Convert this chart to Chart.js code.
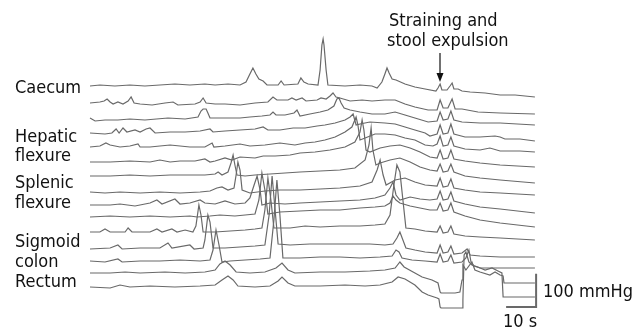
<!DOCTYPE html>
<html>
<head>
<meta charset="utf-8">
<script src="https://cdn.jsdelivr.net/npm/chart.js@4/dist/chart.umd.min.js"></script>
<style>
  html, body { margin: 0; padding: 0; background: #fff; }
  #wrap { width: 643px; height: 331px; position: relative; }
</style>
</head>
<body>
<div id="wrap"><canvas id="myChart"></canvas></div>
<script>
// time in s, pressure in mmHg (relative to each channel's resting level)
const t01 = [0,3.3,8.3,13.3,18.3,23.3,28.3,33.3,38.3,41.7,46,50,52,53.3,54.3,55.3,56.3,57.7,59,62.7,63.7,64.7,69.3,70.3,71.3,72.7,76,76.7,77.3,77.7,78,78.7,79.3,85,90,94,95.7,97.3,98.3,99,99.7,100.7,102,105,108.3,111.7,115.3,116,116.7,117.3,119,120,120.7,121.3,122.7,124,126.7,131.7,136.7,141.7,148.3];
const p01 = [0,3,0,3,0,3,6,3,6,3,6,3,12,36,54,36,21,15,3,3,15,3,6,24,12,6,3,48,123,141,123,48,3,0,3,0,-6,12,36,54,39,21,18,6,-3,-9,-15,-6,6,-12,-12,0,9,-9,-9,-15,-18,-21,-27,-27,-33];

const t02 = [0,3.3,4.7,5.7,6.7,7.7,9.3,11,12.7,13.7,14.7,16.7,20.7,25,27.7,29.3,35,36.7,37.7,38.7,41.7,45,50,55,59.3,61,62.3,66,67.3,68.7,70.7,72,75.7,77,78.7,80,81,82,83.3,86.7,90.7,94,98.3,101.7,105,108.3,112.7,115.7,116.7,117.7,119.3,120.7,121.7,124,129.3,136.7,148.3];
const p02 = [-3,0,3,9,0,-6,0,-6,3,15,-3,-6,-9,-3,0,-9,-6,0,12,-3,-6,-6,-9,-3,0,15,6,6,12,6,12,3,6,12,9,18,27,15,12,3,6,3,6,6,-6,-15,-24,-24,6,-18,-18,9,-21,-21,-30,-33,-36];

const t03 = [0,1.7,5,9.3,13.3,18.3,26,31.7,36,37,37.7,38.7,39.3,40,45,50,53.3,57.3,60,61,62,65,68,69,70,73.3,76.7,79.3,81.3,82.3,83,83.7,84.7,86.7,90,94,98.3,101.7,105,108.3,112.7,115.7,116.7,117.7,119.3,120.3,121.3,124,130,136.7,148.3];
const p03 = [0,-9,-6,-6,-3,-6,0,-3,3,21,27,27,15,0,0,0,3,6,9,18,9,9,15,24,6,12,18,24,36,57,60,45,30,24,18,12,12,18,9,0,-12,-9,18,-6,-3,21,-6,-12,-15,-15,-21];

const t04 = [0,5,7.3,8.7,9.7,11,12.3,15,16.7,18.7,20,21.7,26.7,31.7,36.7,40,41,45,50,55,57.7,59.3,63.3,67.7,71.7,75.7,78.3,81.7,85,86.7,87.7,88.7,90,93.3,98.3,101.7,105,108.3,111.7,113.3,115.7,116.7,117.7,119.3,120.3,121.3,125,130,135,136.7,138.3,143.3,148.3];
const p04 = [0,-3,0,12,0,15,3,9,3,12,15,0,3,3,6,12,3,6,9,12,18,9,9,15,15,21,24,30,39,48,57,24,27,33,30,27,18,9,0,-9,-3,24,-3,0,27,-3,-12,-12,-9,-12,-18,-18,-24];

const t05 = [0,3.3,5.3,6.7,10,13.3,16,16.7,20,23.3,26.7,33.3,38.3,40.7,41.3,45,50,53.3,58.3,63.3,68.3,71.7,75,78.3,81.7,85,87.3,88.7,89.3,90,91.7,95,98.3,101.7,105,108.3,111.7,114.3,115.7,116.7,117.7,119.3,120.3,121.3,125,130,133.3,136.7,143.3,148.3];
const p05 = [0,3,12,6,0,3,9,0,0,3,6,0,0,12,0,3,9,3,6,12,6,12,15,21,30,45,60,90,66,21,27,39,39,36,27,21,6,3,9,33,3,6,30,3,-6,-9,-3,-12,-12,-15];

const t06 = [0,6.7,13.3,20,23.3,26.7,30,35,38.3,40,41.7,45,47.3,50,55,57.7,61.7,66.7,70,75,80,85,88.3,90,90.7,91.3,92,93.3,96.7,100,103.3,106.7,110,113.3,115.7,116.7,117.7,119.3,120.3,121.3,125,130,136.7,148.3];
const p06 = [0,0,3,0,6,0,3,3,9,0,3,12,6,15,12,18,18,21,27,30,36,45,60,90,126,96,36,30,42,48,51,42,30,15,12,36,9,12,36,9,3,-3,-9,-15];

const t07 = [0,6.7,13.3,20,26.7,33.3,38.3,41.7,42.7,44,46,47,47.7,48.3,49,51.7,55,60,65,70,76.7,83.3,88.3,91.7,93,93.7,94.3,95.3,96.7,100,103.3,106.7,110,113.3,115.7,116.7,117.7,119.3,120.3,121.3,125,130,136.7,148.3];
const p07 = [0,0,3,0,3,3,3,6,12,3,12,39,63,33,3,0,3,6,9,12,15,18,24,48,93,144,78,33,39,48,54,42,27,18,15,36,12,15,36,12,0,-6,-12,-21];

const t08 = [0,5,10,16.7,23.3,30,36.7,40,42.3,44,46,48,48.7,49.3,50,50.7,53.3,58.3,63.3,70,76.7,83.3,90,94,95.7,96.7,97.7,98.7,101.7,105,108.3,111.7,115.7,116.7,117.7,119.3,120.3,121.3,125,130,136.7,148.3];
const p08 = [0,-3,0,-3,0,-3,0,3,12,15,6,12,51,90,66,6,-3,3,6,6,9,12,18,30,66,96,51,21,36,42,30,21,18,42,15,18,39,12,6,0,-3,-9];

const t09 = [0,6.7,10,15,20,22.3,24,28.3,30,33.3,36.7,38.3,41.7,45,48.3,51.7,53.3,54.7,55.7,56.7,57.3,60,65,70,76.7,83.3,90,95,98.3,100,101,102,103.3,106.7,110,113.3,115.7,116.7,117.7,119.3,120.3,121.3,125,130,136.7,148.3];
const p09 = [0,0,3,-3,6,15,3,18,3,6,15,6,3,12,3,6,21,60,87,45,0,6,3,6,9,12,15,21,30,51,69,30,15,24,18,15,18,42,15,18,39,12,3,-6,-12,-24];

const t10 = [0,6.7,13.3,20,26.7,33.3,35.7,40,43.3,48.3,51.7,55,56.3,57.3,58.3,59.3,63.3,70,76.7,83.3,90,95,98.3,100,101,102,103.3,106.7,110,113.3,115.7,116.7,117.7,119.3,120.3,121.3,125,130,136.7,148.3];
const p10 = [0,3,0,3,0,3,0,3,6,3,6,9,51,132,81,9,15,18,21,21,27,30,33,42,63,51,42,33,27,21,21,42,18,21,42,15,3,-9,-18,-30];

const t11 = [0,3.3,5,6.7,11.7,12.7,14,20,22.3,24,27.3,29,31.7,34.3,35.3,36.3,37,37.7,41.7,46.7,51.7,55,57.3,58.3,59.3,60.3,61.3,66.7,71.7,76.7,83.3,90,95,98.3,100,101.3,102.3,103.3,104.3,105.3,108.3,111.7,115.7,116.7,117.7,119.3,120.3,121.3,125,130,136.7,148.3];
const p11 = [0,0,9,0,0,12,0,0,9,0,9,0,6,0,18,81,51,0,0,3,6,9,12,66,162,96,12,12,18,15,18,18,21,24,51,141,201,180,96,12,9,3,0,18,-3,0,18,-6,-12,-15,-18,-24];

const t12 = [0,6.7,9.3,10.7,16.7,23.3,26,27.3,33.3,34.7,37.7,38.3,39.3,40,41,45,50,55,58.3,59.7,60.7,61.7,62.7,66.7,73.3,80,86.7,93.3,98.3,101,102.3,103.3,104.3,105.3,108.3,111.7,115.7,116.7,117.7,119.3,120.3,121.3,124,125.7,126.7,130,136.7,148.3];
const p12 = [-3,0,9,-3,0,0,15,0,9,-3,0,24,99,78,0,0,3,6,9,99,216,114,12,9,12,12,12,12,9,12,30,48,24,0,-6,-12,-15,9,-15,-12,6,-18,-15,-3,-21,-24,-27,-27];

const t13 = [0,5,9.3,10.7,16.7,23.3,30,36.7,40,41,42,43,44,46.7,51.7,56.7,60,61.3,62.3,63.3,64.3,70,76.7,83.3,90,96.7,100.7,102,103,104,107.3,111.7,115.7,116.7,117.7,119.3,120.3,121.3,124,125.3,126.3,127,128,130,136.7,148.3];
const p13 = [0,-3,6,-3,0,0,3,0,3,33,93,48,-3,0,3,6,9,123,243,138,9,9,12,12,9,12,15,33,27,9,3,0,-3,21,-3,0,18,-6,-3,9,33,-3,-15,-21,-21,-21];

const t14 = [0,6.7,11.7,16.7,25,31.7,38.3,41.7,43.3,45,46.7,48.7,53.3,58.3,62,64,66,68.3,76.7,85,93.3,98.3,101.7,103.3,104.7,108.3,110.7,114,116,116.7,117,121.7,123.3,124,124.3,125.3,127.3,128.3,130,133.3,135,136.7,137.7,138,148.3];
const p14 = [0,0,3,0,3,0,3,9,27,36,24,3,0,3,15,30,9,0,3,3,6,9,15,33,18,0,-12,-21,-30,-57,-60,-60,-57,-21,24,9,33,9,3,-6,3,-6,-9,-30,-30];

const t15 = [0,6.7,10,13.3,20,28.3,36.7,41.7,44,46,47.7,49.3,55,60,62.7,64,66,68.3,76.7,85,91.7,96.7,100.7,102.7,105,108.3,110.7,112.7,115.7,116.3,116.7,117,124,124.3,124.7,125.3,126.3,127.3,129.3,131.7,134,136,137.3,137.7,148.3];
const p15 = [0,-3,6,0,3,0,3,6,21,33,21,3,0,3,18,30,12,3,3,6,3,6,15,30,24,6,-15,-24,-33,-36,-60,-63,-63,-39,96,105,75,66,60,51,57,48,42,-30,-30];

const times = [t01, t02, t03, t04, t05, t06, t07, t08, t09, t10, t11, t12, t13, t14, t15];
const pressures = [p01, p02, p03, p04, p05, p06, p07, p08, p09, p10, p11, p12, p13, p14, p15];

// display offset of each channel (mmHg), top trace first
const offsets = [735, 687, 639, 594, 552, 507, 465, 417, 378, 342, 297, 249, 210, 174, 132];

const sites = [
  ['Caecum'], ['Hepatic', 'flexure'], ['Splenic', 'flexure'], ['Sigmoid', 'colon'], ['Rectum']
];

const datasets = times.map(function (t, k) {
  return {
    data: t.map(function (x, i) { return { x: x, y: offsets[k] + pressures[k][i] }; }),
    borderColor: 'rgb(105,105,105)',
    borderWidth: 1.2,
    pointRadius: 0,
    tension: 0,
    fill: false,
  };
});

const FONT = '18px "DejaVu Sans Condensed", "Liberation Sans", sans-serif';

const overlay = {
  id: 'overlay',
  afterDraw: function (chart) {
    const ctx = chart.ctx;
    const xs = chart.scales.x, ys = chart.scales.y;
    ctx.save();
    ctx.fillStyle = '#111';
    ctx.font = FONT;
    ctx.textBaseline = 'alphabetic';
    // channel names
    const rows = [[93], [142, 161], [188, 208], [247, 267], [287]];
    sites.forEach(function (words, i) {
      words.forEach(function (w, j) { ctx.fillText(w, 15, rows[i][j]); });
    });
    // straining annotation
    ctx.fillText('Straining and', 389, 26);
    ctx.fillText('stool expulsion', 387, 46);
    ctx.strokeStyle = '#111';
    ctx.lineWidth = 1.2;
    ctx.beginPath();
    ctx.moveTo(440, 53); ctx.lineTo(440, 76);
    ctx.stroke();
    ctx.beginPath();
    ctx.moveTo(436.5, 73); ctx.lineTo(443.5, 73); ctx.lineTo(440, 82); ctx.closePath();
    ctx.fill();
    // scale bar: 10 s x 100 mmHg
    const bx = xs.getPixelForValue(148.7), by = ys.getPixelForValue(72);
    ctx.strokeStyle = 'rgb(105,105,105)';
    ctx.lineWidth = 2;
    ctx.beginPath();
    ctx.moveTo(xs.getPixelForValue(138.7), by);
    ctx.lineTo(bx, by);
    ctx.lineTo(bx, ys.getPixelForValue(172));
    ctx.stroke();
    ctx.fillText('100 mmHg', 543, 297);
    ctx.fillText('10 s', 503, 327);
    ctx.restore();
  }
};

const config = {
  type: 'line',
  data: { datasets: datasets },
  options: {
    responsive: true,
    maintainAspectRatio: false,
    animation: false,
    events: [],
    layout: { padding: 0 },
    scales: {
      x: { type: 'linear', min: -30, max: 184.33, display: false },
      y: { type: 'linear', min: 0, max: 993, display: false },
    },
    plugins: {
      legend: { display: false },
      tooltip: { enabled: false },
    },
  },
  plugins: [overlay],
};

const myChart = new Chart(document.getElementById('myChart'), config);
</script>
</body>
</html>
